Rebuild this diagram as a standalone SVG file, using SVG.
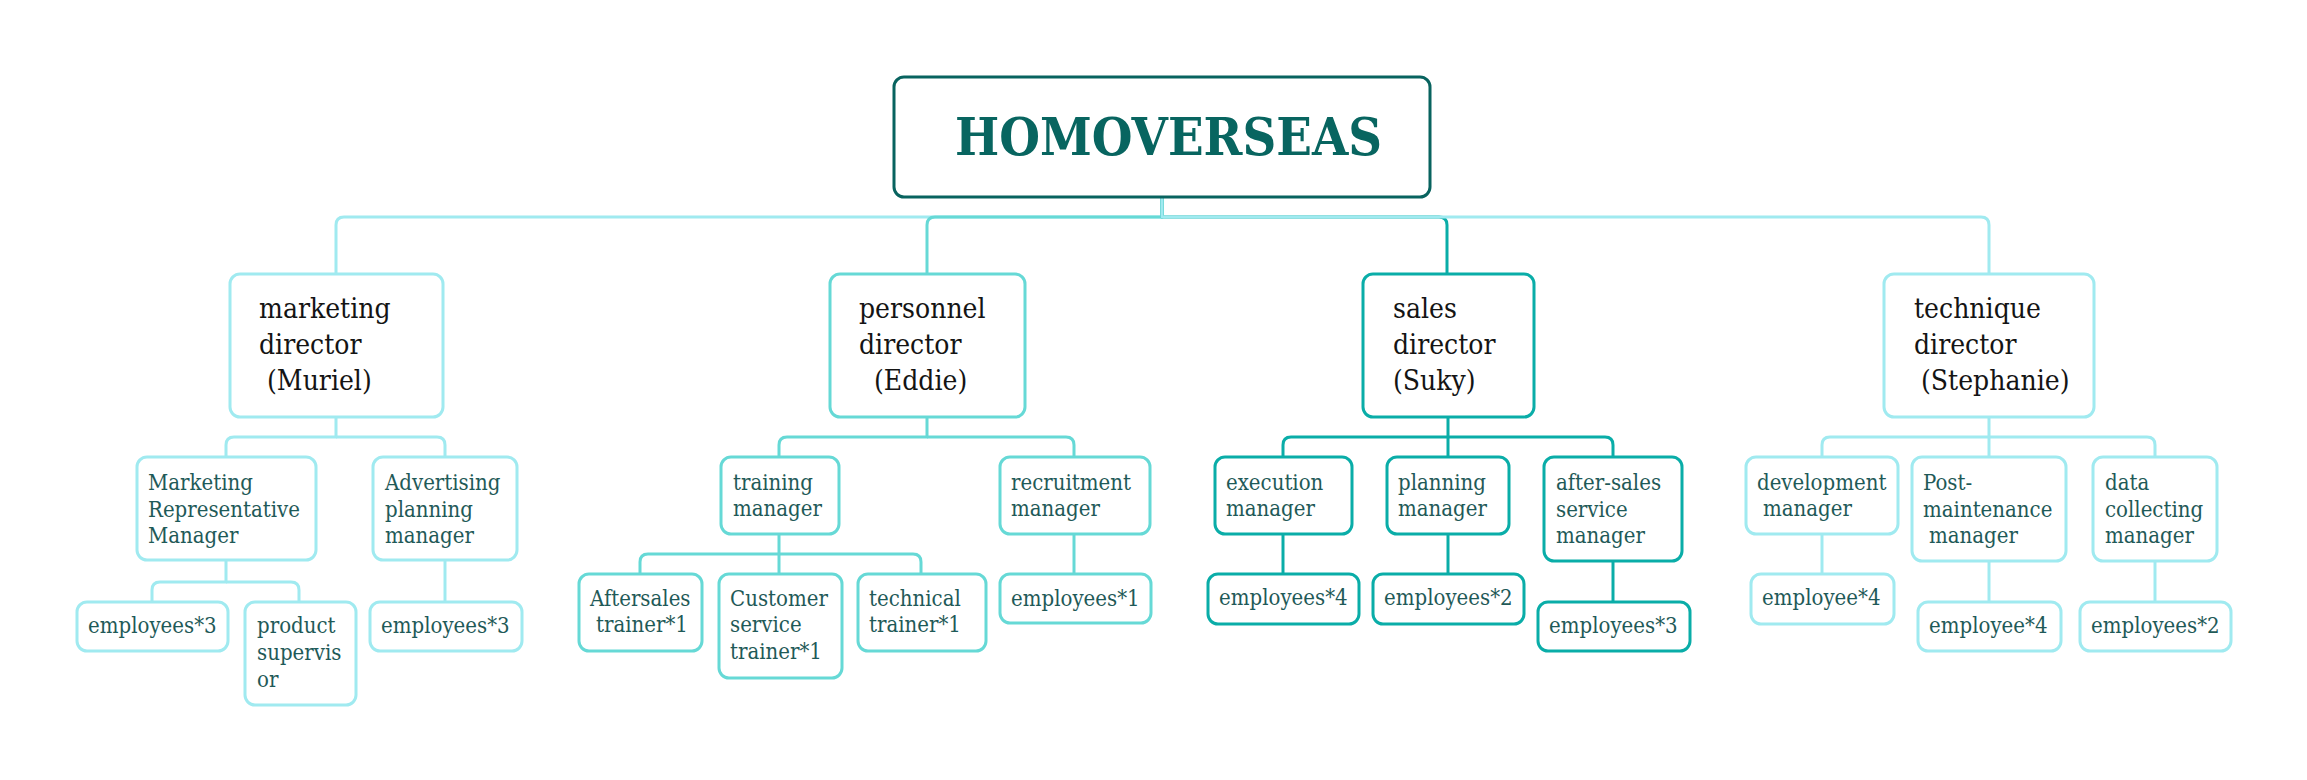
<svg xmlns="http://www.w3.org/2000/svg" width="2307" height="780" viewBox="0 0 2307 780">
  <style>
    rect { fill: #ffffff; stroke-width: 3; }
    .root { stroke: #08635F; }
    .lt { stroke: #A0EAF0; }
    .md { stroke: #66D9D6; }
    .dk { stroke: #0AADA8; }
    path { fill: none; stroke-width: 3; stroke-linejoin: round; }
    path.lt { stroke: #A0EAF0; }
    path.md { stroke: #66D9D6; }
    path.dk { stroke: #0AADA8; }
    text { font-family: "DejaVu Serif Condensed", "DejaVu Serif", "Liberation Serif", serif; font-stretch: condensed; }
    .title { font-size: 52px; font-weight: bold; fill: #086560; }
    .dir { font-size: 28px; fill: #141414; }
    .mgr { font-size: 22px; fill: #1F5A58; }
  </style>

  <!-- connectors -->
  <g id="connectors">
    <!-- root to directors -->
    <path class="lt" d="M1162 197 V217 H344 Q336 217 336 225 V274"/>
    <path class="md" d="M1162 197 V217 H935 Q927 217 927 225 V274"/>
    <path class="dk" d="M1162 197 V217 H1439 Q1447 217 1447 225 V274"/>
    <path class="lt" d="M1162 197 V217 H1981 Q1989 217 1989 225 V274"/>

    <!-- marketing -->
    <path class="lt" d="M336 417 V437 H234 Q226 437 226 445 V457"/>
    <path class="lt" d="M336 437 H437 Q445 437 445 445 V457"/>
    <path class="lt" d="M226 560 V582 H160 Q152 582 152 590 V602"/>
    <path class="lt" d="M226 582 H291 Q299 582 299 590 V602"/>
    <path class="lt" d="M445 560 V602"/>

    <!-- personnel -->
    <path class="md" d="M927 417 V437 H787 Q779 437 779 445 V457"/>
    <path class="md" d="M927 437 H1066 Q1074 437 1074 445 V457"/>
    <path class="md" d="M779 534 V554 H648 Q640 554 640 562 V574"/>
    <path class="md" d="M779 554 H913 Q921 554 921 562 V574"/>
    <path class="md" d="M779 554 V574"/>
    <path class="md" d="M1074 534 V574"/>

    <!-- sales -->
    <path class="dk" d="M1448 417 V437 H1291 Q1283 437 1283 445 V457"/>
    <path class="dk" d="M1448 437 H1605 Q1613 437 1613 445 V457"/>
    <path class="dk" d="M1448 437 V457"/>
    <path class="dk" d="M1283 534 V574"/>
    <path class="dk" d="M1448 534 V574"/>
    <path class="dk" d="M1613 561 V602"/>

    <!-- technique -->
    <path class="lt" d="M1989 417 V437 H1830 Q1822 437 1822 445 V457"/>
    <path class="lt" d="M1989 437 H2147 Q2155 437 2155 445 V457"/>
    <path class="lt" d="M1989 437 V457"/>
    <path class="lt" d="M1822 534 V574"/>
    <path class="lt" d="M1989 561 V602"/>
    <path class="lt" d="M2155 561 V602"/>
  </g>

  <!-- root -->
  <g id="root">
    <rect class="root" x="894" y="77" width="536" height="120" rx="10"/>
    <text class="title" x="955" y="155" textLength="427" lengthAdjust="spacingAndGlyphs">HOMOVERSEAS</text>
  </g>

  <!-- directors -->
  <g id="marketing-director">
    <rect class="lt" x="230" y="274" width="213" height="143" rx="10"/>
    <text class="dir"><tspan x="259" y="318">marketing</tspan><tspan x="259" y="354">director</tspan><tspan x="267" y="390">(Muriel)</tspan></text>
  </g>
  <g id="personnel-director">
    <rect class="md" x="830" y="274" width="195" height="143" rx="10"/>
    <text class="dir"><tspan x="859" y="318">personnel</tspan><tspan x="859" y="354">director</tspan><tspan x="874" y="390">(Eddie)</tspan></text>
  </g>
  <g id="sales-director">
    <rect class="dk" x="1363" y="274" width="171" height="143" rx="10"/>
    <text class="dir"><tspan x="1393" y="318">sales</tspan><tspan x="1393" y="354">director</tspan><tspan x="1393" y="390">(Suky)</tspan></text>
  </g>
  <g id="technique-director">
    <rect class="lt" x="1884" y="274" width="210" height="143" rx="10"/>
    <text class="dir"><tspan x="1914" y="318">technique</tspan><tspan x="1914" y="354">director</tspan><tspan x="1921" y="390">(Stephanie)</tspan></text>
  </g>

  <!-- managers -->
  <g id="marketing-rep-manager">
    <rect class="lt" x="137" y="457" width="179" height="103" rx="10"/>
    <text class="mgr"><tspan x="148" y="490">Marketing</tspan><tspan x="148" y="517">Representative</tspan><tspan x="148" y="543">Manager</tspan></text>
  </g>
  <g id="advertising-manager">
    <rect class="lt" x="373" y="457" width="144" height="103" rx="10"/>
    <text class="mgr"><tspan x="385" y="490">Advertising</tspan><tspan x="385" y="517">planning</tspan><tspan x="385" y="543">manager</tspan></text>
  </g>
  <g id="training-manager">
    <rect class="md" x="721" y="457" width="118" height="77" rx="10"/>
    <text class="mgr"><tspan x="733" y="490">training</tspan><tspan x="733" y="516">manager</tspan></text>
  </g>
  <g id="recruitment-manager">
    <rect class="md" x="1000" y="457" width="150" height="77" rx="10"/>
    <text class="mgr"><tspan x="1011" y="490">recruitment</tspan><tspan x="1011" y="516">manager</tspan></text>
  </g>
  <g id="execution-manager">
    <rect class="dk" x="1215" y="457" width="137" height="77" rx="10"/>
    <text class="mgr"><tspan x="1226" y="490">execution</tspan><tspan x="1226" y="516">manager</tspan></text>
  </g>
  <g id="planning-manager">
    <rect class="dk" x="1387" y="457" width="122" height="77" rx="10"/>
    <text class="mgr"><tspan x="1398" y="490">planning</tspan><tspan x="1398" y="516">manager</tspan></text>
  </g>
  <g id="after-sales-manager">
    <rect class="dk" x="1544" y="457" width="138" height="104" rx="10"/>
    <text class="mgr"><tspan x="1556" y="490">after-sales</tspan><tspan x="1556" y="517">service</tspan><tspan x="1556" y="543">manager</tspan></text>
  </g>
  <g id="development-manager">
    <rect class="lt" x="1746" y="457" width="152" height="77" rx="10"/>
    <text class="mgr"><tspan x="1757" y="490">development</tspan><tspan x="1763" y="516">manager</tspan></text>
  </g>
  <g id="post-maintenance-manager">
    <rect class="lt" x="1912" y="457" width="154" height="104" rx="10"/>
    <text class="mgr"><tspan x="1923" y="490">Post-</tspan><tspan x="1923" y="517">maintenance</tspan><tspan x="1929" y="543">manager</tspan></text>
  </g>
  <g id="data-collecting-manager">
    <rect class="lt" x="2093" y="457" width="124" height="104" rx="10"/>
    <text class="mgr"><tspan x="2105" y="490">data</tspan><tspan x="2105" y="517">collecting</tspan><tspan x="2105" y="543">manager</tspan></text>
  </g>

  <!-- staff -->
  <g id="marketing-employees">
    <rect class="lt" x="77" y="602" width="151" height="49" rx="10"/>
    <text class="mgr" x="88" y="633">employees*3</text>
  </g>
  <g id="product-supervisor">
    <rect class="lt" x="245" y="602" width="111" height="103" rx="10"/>
    <text class="mgr"><tspan x="257" y="633">product</tspan><tspan x="257" y="660">supervis</tspan><tspan x="257" y="687">or</tspan></text>
  </g>
  <g id="advertising-employees">
    <rect class="lt" x="370" y="602" width="152" height="49" rx="10"/>
    <text class="mgr" x="381" y="633">employees*3</text>
  </g>
  <g id="aftersales-trainer">
    <rect class="md" x="579" y="574" width="123" height="77" rx="10"/>
    <text class="mgr"><tspan x="590" y="606">Aftersales</tspan><tspan x="596" y="632">trainer*1</tspan></text>
  </g>
  <g id="customer-service-trainer">
    <rect class="md" x="719" y="574" width="123" height="104" rx="10"/>
    <text class="mgr"><tspan x="730" y="606">Customer</tspan><tspan x="730" y="632">service</tspan><tspan x="730" y="659">trainer*1</tspan></text>
  </g>
  <g id="technical-trainer">
    <rect class="md" x="858" y="574" width="128" height="77" rx="10"/>
    <text class="mgr"><tspan x="869" y="606">technical</tspan><tspan x="869" y="632">trainer*1</tspan></text>
  </g>
  <g id="recruitment-employees">
    <rect class="md" x="1000" y="574" width="151" height="49" rx="10"/>
    <text class="mgr" x="1011" y="606">employees*1</text>
  </g>
  <g id="execution-employees">
    <rect class="dk" x="1208" y="574" width="151" height="50" rx="10"/>
    <text class="mgr" x="1219" y="605">employees*4</text>
  </g>
  <g id="planning-employees">
    <rect class="dk" x="1373" y="574" width="151" height="50" rx="10"/>
    <text class="mgr" x="1384" y="605">employees*2</text>
  </g>
  <g id="after-sales-employees">
    <rect class="dk" x="1538" y="602" width="152" height="49" rx="10"/>
    <text class="mgr" x="1549" y="633">employees*3</text>
  </g>
  <g id="development-employees">
    <rect class="lt" x="1751" y="574" width="143" height="50" rx="10"/>
    <text class="mgr" x="1762" y="605">employee*4</text>
  </g>
  <g id="post-maintenance-employees">
    <rect class="lt" x="1918" y="602" width="143" height="49" rx="10"/>
    <text class="mgr" x="1929" y="633">employee*4</text>
  </g>
  <g id="data-collecting-employees">
    <rect class="lt" x="2080" y="602" width="151" height="49" rx="10"/>
    <text class="mgr" x="2091" y="633">employees*2</text>
  </g>
</svg>
